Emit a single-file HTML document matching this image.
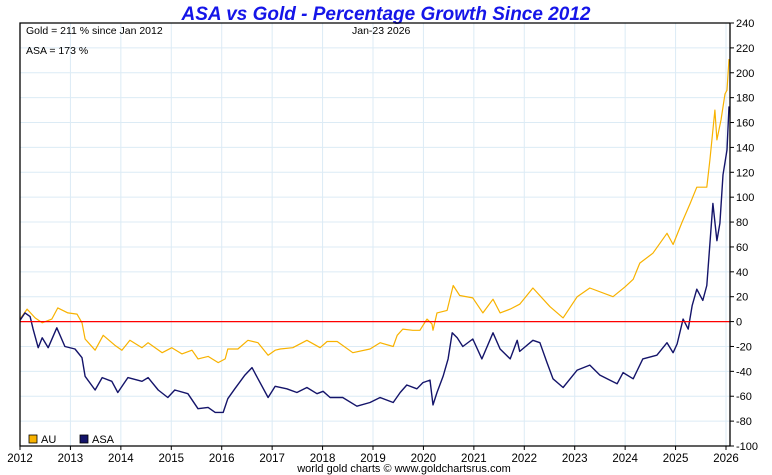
<!DOCTYPE html>
<html><head><meta charset="utf-8"><style>
html,body{margin:0;padding:0;background:#fff;}
svg{display:block;font-family:"Liberation Sans",sans-serif;}
</style></head><body>
<svg id="chart" width="772" height="475" viewBox="0 0 772 475" xmlns="http://www.w3.org/2000/svg">
<text x="386" y="20" text-anchor="middle" font-size="19" font-weight="bold" font-style="italic" fill="#1515e8">ASA vs Gold - Percentage Growth Since 2012</text>
<g id="grid"></g>
<g id="series"></g>
<g id="axes"></g>
<text x="26" y="34" font-size="10.5" fill="#000">Gold = 211 % since Jan 2012</text>
<text x="26" y="54" font-size="10.5" fill="#000">ASA = 173 %</text>
<text x="352" y="34" font-size="10.5" fill="#000">Jan-23  2026</text>
<g>
<rect x="29" y="435" width="8" height="8" fill="#f8b200" stroke="#000" stroke-width="0.8"/>
<text x="41" y="443" font-size="11">AU</text>
<rect x="80" y="435" width="8" height="8" fill="#14146a" stroke="#000" stroke-width="0.8"/>
<text x="92" y="443" font-size="11">ASA</text>
</g>
<text x="404" y="472" text-anchor="middle" font-size="11" fill="#000">world gold charts © www.goldchartsrus.com</text>
</svg>
<script>
const yearTicks = [2012,2013,2014,2015,2016,2017,2018,2019,2020,2021,2022,2023,2024,2025,2026];
const valueTicks = [240,220,200,180,160,140,120,100,80,60,40,20,0,-20,-40,-60,-80,-100];
const goldDates = [2012.00,2012.14,2012.30,2012.44,2012.63,2012.75,2012.95,2013.13,2013.23,2013.29,2013.49,2013.65,2013.88,2014.02,2014.18,2014.42,2014.54,2014.82,2015.01,2015.21,2015.41,2015.53,2015.73,2015.93,2016.07,2016.12,2016.32,2016.52,2016.72,2016.92,2017.06,2017.16,2017.41,2017.69,2017.95,2018.09,2018.29,2018.60,2018.94,2019.14,2019.40,2019.48,2019.59,2019.79,2019.93,2020.07,2020.17,2020.19,2020.27,2020.47,2020.59,2020.72,2020.98,2021.18,2021.38,2021.52,2021.72,2021.91,2022.17,2022.51,2022.77,2023.05,2023.30,2023.76,2024.00,2024.16,2024.29,2024.55,2024.83,2024.95,2025.13,2025.29,2025.42,2025.62,2025.68,2025.78,2025.82,2025.90,2025.98,2026.02,2026.06];
const goldValues = [2,10,3,-1,2,11,7,6,-1,-14,-23,-11,-19,-23,-15,-21,-17,-25,-21,-26,-23,-30,-28,-33,-30,-22,-22,-15,-17,-27,-23,-22,-21,-15,-21,-16,-16,-25,-22,-17,-20,-11,-6,-7,-7,2,-2,-7,7,9,29,21,19,7,18,7,10,14,27,12,3,20,27,20,28,34,47,55,71,62,80,95,108,108,130,170,146,162,183,186,211];
const asaDates = [2012.00,2012.10,2012.20,2012.26,2012.36,2012.44,2012.56,2012.73,2012.89,2013.09,2013.23,2013.29,2013.49,2013.63,2013.82,2013.94,2014.14,2014.42,2014.54,2014.74,2014.93,2015.07,2015.33,2015.53,2015.73,2015.87,2016.03,2016.12,2016.26,2016.46,2016.60,2016.72,2016.92,2017.06,2017.29,2017.49,2017.69,2017.89,2018.01,2018.15,2018.40,2018.68,2018.94,2019.14,2019.40,2019.54,2019.67,2019.87,2019.99,2020.13,2020.19,2020.27,2020.39,2020.49,2020.57,2020.67,2020.78,2020.98,2021.16,2021.38,2021.52,2021.72,2021.86,2021.91,2022.17,2022.31,2022.45,2022.57,2022.77,2023.05,2023.30,2023.50,2023.84,2023.96,2024.16,2024.35,2024.63,2024.83,2024.95,2025.03,2025.15,2025.25,2025.33,2025.42,2025.54,2025.62,2025.74,2025.82,2025.88,2025.94,2026.02,2026.06];
const asaValues = [1,7,4,-6,-21,-13,-21,-5,-20,-22,-29,-44,-55,-45,-48,-57,-45,-48,-45,-55,-61,-55,-58,-70,-69,-73,-73,-62,-54,-43,-37,-46,-61,-52,-54,-57,-53,-58,-56,-61,-61,-68,-65,-61,-65,-57,-51,-54,-49,-47,-67,-57,-44,-30,-9,-13,-20,-14,-30,-9,-22,-30,-15,-24,-15,-17,-33,-46,-53,-39,-35,-43,-50,-41,-46,-30,-27,-17,-25,-18,2,-6,13,26,17,29,95,65,79,118,138,173];

const L=20, R=730, T=23, B=446;
const x0=20, x1=726;
function xs(yr){ return x0 + (yr-2012)*(x1-x0)/14; }
function ys(v){ return T + (240-v)*(B-T)/340; }
const NS='http://www.w3.org/2000/svg';
function mk(tag, attrs, parent){ const e=document.createElementNS(NS,tag); for(const k in attrs) e.setAttribute(k,attrs[k]); parent.appendChild(e); return e; }
const grid=document.getElementById('grid'), axes=document.getElementById('axes'), series=document.getElementById('series');

valueTicks.forEach(v=>{
  const y=ys(v);
  const g=mk('line',{x1:L,x2:R,y1:y,y2:y,stroke:'#dcebf5','stroke-width':1},grid);
  
  
  const t=mk('line',{x1:R,x2:R+4,y1:y,y2:y,stroke:'#000','stroke-width':1},axes);
  
  
  const lb=mk('text',{x:R+6,y:y+4,'font-size':11,fill:'#000'},axes);
  lb.textContent=v;
  
  
});
yearTicks.forEach(yr=>{
  const x=xs(yr);
  const g=mk('line',{x1:x,x2:x,y1:T,y2:B,stroke:'#dcebf5','stroke-width':1},grid);
  
  
  const t=mk('line',{x1:x,x2:x,y1:B,y2:B+4,stroke:'#000','stroke-width':1},axes);
  
  
  const lb=mk('text',{x:x,y:B+16,'font-size':11.5,'text-anchor':'middle',fill:'#000'},axes);
  lb.textContent=yr;
  
  
});
function path(d,v){ return d.map((yr,i)=>(i?'L':'M')+xs(yr).toFixed(1)+' '+ys(v[i]).toFixed(1)).join(' '); }
const gp=mk('path',{d:path(goldDates,goldValues),fill:'none',stroke:'#f8b200','stroke-width':1.2,'stroke-linejoin':'round'},series);


const ap=mk('path',{d:path(asaDates,asaValues),fill:'none',stroke:'#14146a','stroke-width':1.4,'stroke-linejoin':'round'},series);


const zero=mk('line',{x1:L,x2:R,y1:ys(0),y2:ys(0),stroke:'#ff0000','stroke-width':1.2},series);


const frame=mk('path',{d:`M${R} ${T} L${L} ${T} L${L} ${B} L${R} ${B} L${R} ${T}`,fill:'none',stroke:'#000','stroke-width':1.3},axes);


</script>
</body></html>
